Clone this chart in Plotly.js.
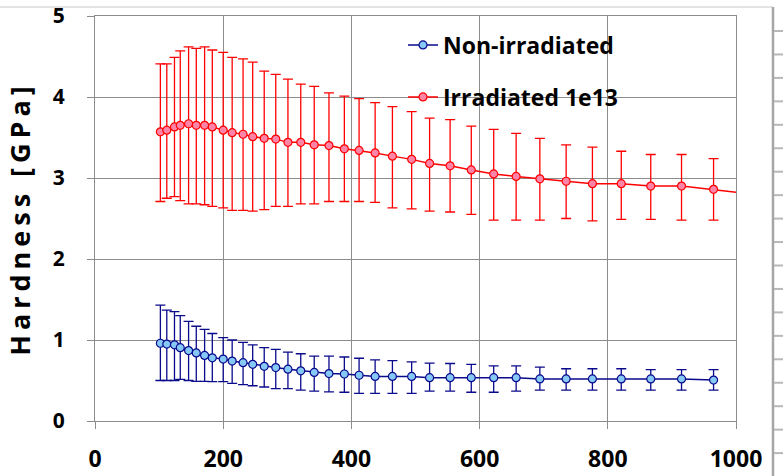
<!DOCTYPE html>
<html>
<head>
<meta charset="utf-8">
<script src="https://cdn.plot.ly/plotly-3.0.1.min.js"></script>
<style>
  html, body { margin: 0; padding: 0; background: #fff; }
  #chart { width: 783px; height: 476px; }
</style>
</head>
<body>
<div id="chart"></div>
<script>
// ---- Data ----
const depth = [102, 112, 124, 133, 146, 158, 171, 183, 200, 214, 231, 246, 264, 282, 301, 321, 342, 365,
               389, 412, 437, 464, 494, 522, 554, 587, 622, 657, 694, 735, 776, 821, 867, 915, 965];

const nonIrrHardness = [0.96, 0.95, 0.94, 0.905, 0.87, 0.84, 0.81, 0.78, 0.765, 0.74, 0.72, 0.70, 0.675, 0.66, 0.64, 0.62, 0.60, 0.585,
                        0.58, 0.565, 0.55, 0.55, 0.55, 0.535, 0.535, 0.535, 0.535, 0.535, 0.52, 0.52, 0.52, 0.52, 0.52, 0.52, 0.505];
const nonIrrUpper = [1.43, 1.37, 1.35, 1.30, 1.23, 1.17, 1.13, 1.08, 1.03, 1.00, 0.97, 0.94, 0.905, 0.885, 0.85, 0.83, 0.80, 0.80,
                     0.79, 0.775, 0.755, 0.745, 0.73, 0.715, 0.71, 0.70, 0.68, 0.68, 0.665, 0.645, 0.645, 0.645, 0.635, 0.635, 0.635];
const nonIrrLower = [0.50, 0.50, 0.50, 0.515, 0.50, 0.49, 0.49, 0.485, 0.485, 0.465, 0.45, 0.435, 0.42, 0.40, 0.40, 0.38, 0.37, 0.36,
                     0.355, 0.34, 0.34, 0.34, 0.34, 0.37, 0.37, 0.355, 0.355, 0.37, 0.38, 0.38, 0.38, 0.38, 0.38, 0.38, 0.38];

const irrDepth = depth.concat([1015]);
const irrHardness = [3.57, 3.59, 3.63, 3.65, 3.67, 3.65, 3.65, 3.63, 3.59, 3.56, 3.54, 3.51, 3.49, 3.48, 3.44, 3.44, 3.41, 3.40,
                     3.36, 3.34, 3.31, 3.27, 3.23, 3.18, 3.15, 3.10, 3.05, 3.02, 2.99, 2.96, 2.93, 2.93, 2.90, 2.90, 2.86, 2.81];
const irrUpper = [4.41, 4.41, 4.49, 4.57, 4.62, 4.60, 4.62, 4.58, 4.55, 4.49, 4.47, 4.43, 4.32, 4.28, 4.22, 4.16, 4.13, 4.05,
                  4.01, 3.98, 3.93, 3.88, 3.82, 3.74, 3.72, 3.64, 3.60, 3.55, 3.49, 3.41, 3.38, 3.33, 3.29, 3.29, 3.24, 2.81];
const irrLower = [2.71, 2.75, 2.77, 2.72, 2.68, 2.68, 2.67, 2.65, 2.63, 2.60, 2.60, 2.59, 2.61, 2.65, 2.65, 2.68, 2.68, 2.71,
                  2.71, 2.71, 2.70, 2.63, 2.62, 2.59, 2.58, 2.55, 2.48, 2.48, 2.48, 2.50, 2.47, 2.49, 2.49, 2.48, 2.48, 2.81];

const seriesNames = ['Non-irradiated', 'Irradiated 1e13'];
const xTickVals = [0, 200, 400, 600, 800, 1000];
const yTickVals = [0, 1, 2, 3, 4, 5];
const yTitle = 'Hardness [GPa]';

// ---- Layout helpers (pixel -> paper) ----
const W = 783, H = 476, ML = 95, MR = 47, MT = 16, MB = 55;
const PW = W - ML - MR, PH = H - MT - MB;
const px = p => (p - ML) / PW;
const py = p => (H - MB - p) / PH;

const diff = (a, b) => a.map((v, i) => v - b[i]);
const FONT = 'Open Sans, Noto Sans, sans-serif';
const GRID = '#8c8c8c';

const traces = [
  {
    x: depth, y: nonIrrHardness, name: seriesNames[0], type: 'scatter', mode: 'lines+markers',
    line: { color: '#0a0a8c', width: 1.5 },
    marker: { symbol: 'circle', size: 8, color: '#86c8f6', line: { color: '#0a0a8c', width: 1.2 } },
    error_y: { type: 'data', symmetric: false, array: diff(nonIrrUpper, nonIrrHardness),
               arrayminus: diff(nonIrrHardness, nonIrrLower), color: '#0a0a8c', thickness: 1.3, width: 5 },
    legend: 'legend'
  },
  {
    x: irrDepth, y: irrHardness, name: seriesNames[1], type: 'scatter', mode: 'lines+markers',
    line: { color: '#ff0000', width: 1.5 },
    marker: { symbol: 'circle', size: 8, color: '#ff85a8', line: { color: '#ff0000', width: 1.2 } },
    error_y: { type: 'data', symmetric: false, array: diff(irrUpper, irrHardness),
               arrayminus: diff(irrHardness, irrLower), color: '#ff0000', thickness: 1.3, width: 5 },
    legend: 'legend2'
  }
];

const shapes = [
  { type: 'rect', xref: 'paper', yref: 'paper', x0: px(383), x1: px(638), y0: py(120), y1: py(22),
    fillcolor: '#ffffff', line: { width: 0 }, layer: 'between' },
  { type: 'line', xref: 'paper', yref: 'paper', x0: px(0), x1: px(773), y0: py(7), y1: py(7),
    line: { color: '#c8c8c8', width: 1 } },
  { type: 'line', xref: 'paper', yref: 'paper', x0: px(773), x1: px(773), y0: py(7), y1: py(480),
    line: { color: '#a6a6a6', width: 2.5 } }
];
for (let k = 0; k < 19; k++) {
  const yy = 31 + 23.45 * k;
  shapes.push({ type: 'line', xref: 'paper', yref: 'paper', x0: px(774), x1: px(790), y0: py(yy), y1: py(yy),
                line: { color: '#b8b8b8', width: 2 } });
}

const legendCommon = {
  font: { family: FONT, size: 23, color: '#000', weight: 700 },
  bgcolor: 'rgba(0,0,0,0)', borderwidth: 0, xanchor: 'left', yanchor: 'middle'
};

const layout = {
  width: W, height: H,
  margin: { l: ML, r: MR, t: MT, b: MB, pad: 0 },
  paper_bgcolor: '#ffffff', plot_bgcolor: '#ffffff',
  showlegend: true,
  legend: Object.assign({}, legendCommon, { x: px(403), y: py(45) }),
  legend2: Object.assign({}, legendCommon, { x: px(403), y: py(97) }),
  xaxis: {
    range: [0, 1000], tickvals: xTickVals, ticktext: xTickVals.map(String),
    showgrid: true, gridcolor: GRID, gridwidth: 1, zeroline: false,
    showline: true, linecolor: GRID, linewidth: 1, mirror: true,
    ticks: 'outside', ticklen: 7, tickcolor: GRID, tickwidth: 1,
    ticklabelstandoff: 10, ticklabeloverflow: 'allow',
    tickfont: { family: FONT, size: 23, color: '#000', weight: 700 }
  },
  yaxis: {
    range: [0, 5], tickvals: yTickVals, ticktext: yTickVals.map(String),
    showgrid: true, gridcolor: GRID, gridwidth: 1, zeroline: false,
    showline: true, linecolor: GRID, linewidth: 1, mirror: true,
    ticks: 'outside', ticklen: 7, tickcolor: GRID, tickwidth: 1,
    ticklabelstandoff: 18, ticklabeloverflow: 'allow',
    tickfont: { family: FONT, size: 21, color: '#000', weight: 700 },
    title: { text: yTitle, standoff: 14, font: { family: FONT, size: 27, color: '#000', weight: 700 } }
  },
  shapes: shapes,
  hovermode: false
};

Plotly.newPlot('chart', traces, layout, { displayModeBar: false, staticPlot: true }).then(() => {
  document.querySelectorAll('.ytitle').forEach(el => { el.style.letterSpacing = '5px'; });
});
</script>
</body>
</html>
